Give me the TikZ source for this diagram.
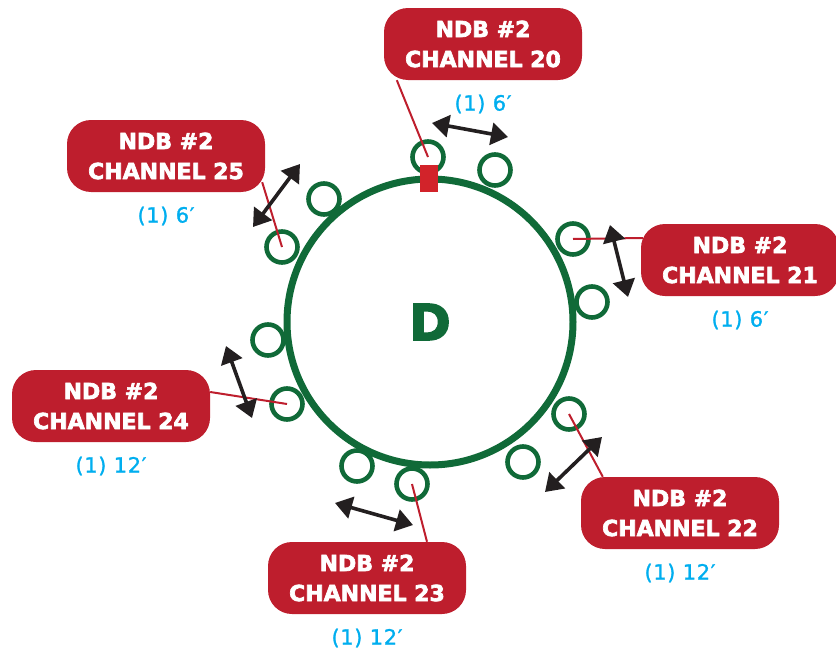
\documentclass[tikz,border=0pt]{standalone}
\usepackage{fontspec}
\usepackage{tikz}
\usetikzlibrary{shapes, arrows.meta}
\newfontfamily\tagfont{DejaVu Sans}[BoldFeatures={FakeBold=3}]
\newfontfamily\lenfont{DejaVu Sans}[LetterSpace=3, FakeBold=1.2]
\definecolor{ringgreen}{RGB}{16,106,56}
\definecolor{tagred}{RGB}{190,30,45}
\definecolor{feedred}{RGB}{210,35,42}
\definecolor{lenblue}{RGB}{0,174,239}
\definecolor{spanblack}{RGB}{35,31,32}
\tikzstyle{hub} = [circle, draw=ringgreen, line width=7pt, minimum size=286pt,
    text=ringgreen, font=\tagfont\bfseries\fontsize{50}{50}\selectfont]
\tikzstyle{port} = [circle, draw=ringgreen, fill=white, line width=4.6pt,
    minimum size=31pt, inner sep=0pt]
\tikzstyle{feed} = [rectangle, fill=feedred, minimum width=18pt, minimum height=27pt, inner sep=0pt]
\tikzstyle{chan} = [rectangle, fill=tagred, rounded corners=24pt, minimum width=198pt,
    minimum height=72pt, text=white, align=center,
    font=\tagfont\bfseries\fontsize{22}{30}\selectfont]
\tikzstyle{dist} = [text=lenblue, font=\lenfont\fontsize{21}{21}\selectfont, node distance=60pt]
\tikzstyle{lead} = [draw=tagred, line width=2pt]
\tikzstyle{span} = [draw=spanblack, line width=3.6pt,
    {Triangle[length=17pt,width=22pt]}-{Triangle[length=17pt,width=22pt]}]

\begin{document}
\begin{tikzpicture}[x=1pt, y=-1pt]
        \useasboundingbox (0,0) rectangle (836,653);
        % Place nodes
        \node [hub] (hub) at (430,322) {D};
        \node [port] (c20a) at (428,157) {};
        \node [port] (c20b) at (495,170) {};
        \node [port] (c21a) at (573,239) {};
        \node [port] (c21b) at (592,302) {};
        \node [port] (c22a) at (569,414) {};
        \node [port] (c22b) at (523,462) {};
        \node [port] (c23a) at (412,484) {};
        \node [port] (c23b) at (357,466) {};
        \node [port] (c24a) at (287,404) {};
        \node [port] (c24b) at (268,340) {};
        \node [port] (c25a) at (282,247) {};
        \node [port] (c25b) at (324,199) {};
        % Channel boxes
        \node [chan] (lbl20) at (483,44) {NDB \#2\\CHANNEL 20};
        \node [chan] (lbl21) at (740,260) {NDB \#2\\CHANNEL 21};
        \node [chan] (lbl22) at (680,513) {NDB \#2\\CHANNEL 22};
        \node [chan] (lbl23) at (367,578) {NDB \#2\\CHANNEL 23};
        \node [chan] (lbl24) at (111,406) {NDB \#2\\CHANNEL 24};
        \node [chan] (lbl25) at (166,156) {NDB \#2\\CHANNEL 25};
        % Lengths
        \node [dist, below of=lbl20] (len20) {(1) 6′};
        \node [dist, below of=lbl21] (len21) {(1) 6′};
        \node [dist, below of=lbl22] (len22) {(1) 12′};
        \node [dist, below of=lbl23] (len23) {(1) 12′};
        \node [dist, below of=lbl24] (len24) {(1) 12′};
        \node [dist, below of=lbl25] (len25) {(1) 6′};
        % Draw leaders
        \path [lead] ([xshift=13pt]lbl20.south west) -- (c20a.center);
        \path [lead] ([shift={(2pt,22pt)}]lbl21.west) -- (c21a.center);
        \path [lead] ([xshift=22pt]lbl22.north west) -- (c22a.center);
        \path [lead] ([xshift=60pt]lbl23.north) -- (c23a.center);
        \path [lead] ([yshift=14pt]lbl24.east) -- (c24a.center);
        \path [lead] ([shift={(-3pt,10pt)}]lbl25.south east) -- (c25a.center);
        \node [feed] (feed) at (429,178) {};
        % Spacing arrows
        \coordinate (s20a) at (432,123);
        \coordinate (s20b) at (508,137);
        \coordinate (s21a) at (610,225);
        \coordinate (s21b) at (628,297);
        \coordinate (s22a) at (545,492);
        \coordinate (s22b) at (602,437);
        \coordinate (s23a) at (335,503);
        \coordinate (s23b) at (413,525);
        \coordinate (s24a) at (226,346);
        \coordinate (s24b) at (252,418);
        \coordinate (s25a) at (253,227);
        \coordinate (s25b) at (300,164);
        \path [span] (s20a) -- (s20b);
        \path [span] (s21a) -- (s21b);
        \path [span] (s22a) -- (s22b);
        \path [span] (s23a) -- (s23b);
        \path [span] (s24a) -- (s24b);
        \path [span] (s25a) -- (s25b);
\end{tikzpicture}
\end{document}
